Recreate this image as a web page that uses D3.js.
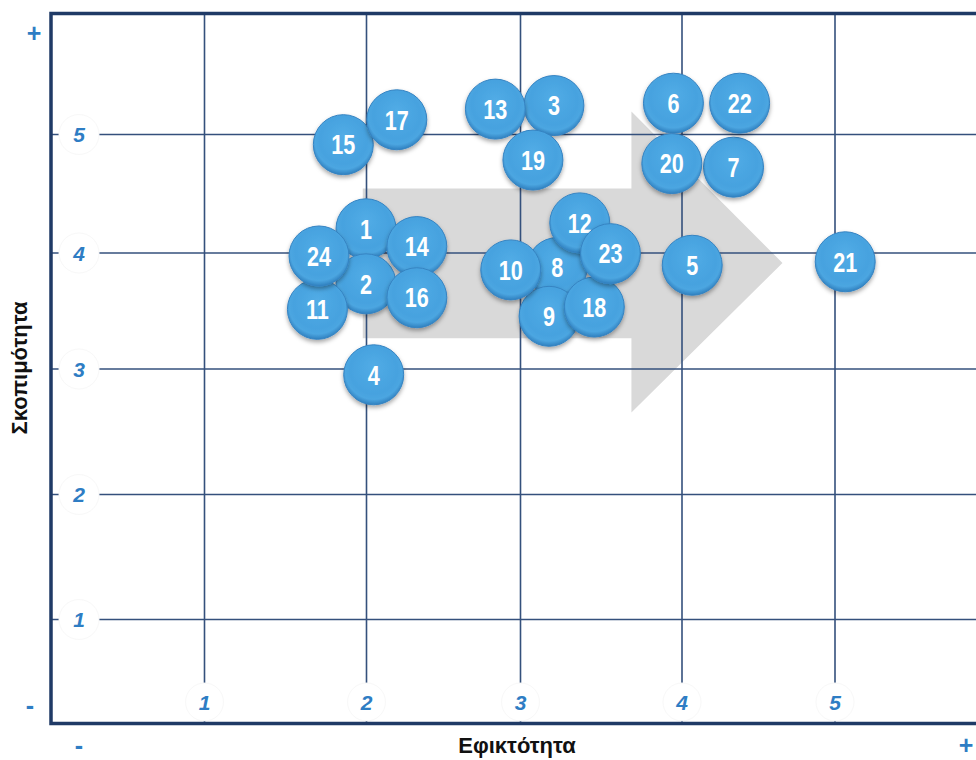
<!DOCTYPE html>
<html lang="el">
<head>
<meta charset="UTF-8">
<title>Εφικτότητα - Σκοπιμότητα</title>
<script src="https://d3js.org/d3.v7.min.js"></script>
<style>
    body{
        margin: 0;
        background: #ffffff;
        font-family: "Liberation Sans", Arial, sans-serif;
    }
    .tick-label{
        font-family: "Liberation Sans", Arial, sans-serif;
        font-weight: bold;
        font-style: italic;
        font-size: 21px;
        fill: #2e7dc4;
    }
    .sign{
        font-family: "Liberation Sans", Arial, sans-serif;
        font-weight: bold;
        font-size: 25px;
        fill: #2e7dc4;
    }
    .axis-title{
        font-family: "Liberation Sans", Arial, sans-serif;
        font-weight: bold;
        font-size: 22px;
        fill: #111;
    }
    .bubble-label{
        font-family: "Liberation Sans", Arial, sans-serif;
        font-weight: bold;
        font-size: 27px;
        fill: #ffffff;
    }
</style>
</head>
<body>
<div id="chart"></div>
<script>
    // items: id, feasibility (x), purposefulness (y)
    const ids = [1, 2, 3, 4, 5, 6, 7, 8, 9, 10, 11, 12, 13, 14, 15, 16, 17, 18, 19, 20, 21, 22, 23, 24];
    const xValues = [2.00, 2.00, 3.21, 2.05, 4.07, 3.95, 4.34, 3.23, 3.18, 2.94, 1.70, 3.37, 2.84, 2.33, 1.86, 2.33, 2.20, 3.46, 3.08, 3.94, 5.07, 4.38, 3.56, 1.71];
    const yValues = [4.20, 3.73, 5.24, 2.95, 3.89, 5.26, 4.72, 3.87, 3.45, 3.85, 3.51, 4.25, 5.21, 4.05, 4.91, 3.61, 5.12, 3.53, 4.78, 4.75, 3.92, 5.26, 3.99, 3.97];

    const xTicks = [1, 2, 3, 4, 5];
    const yTicks = [1, 2, 3, 4, 5];
    const xTitle = "Εφικτότητα";
    const yTitle = "Σκοπιμότητα";

    // background arrow outline (data units)
    const arrowX = [1.98, 3.69, 3.69, 4.66, 3.69, 3.69, 1.98];
    const arrowY = [4.54, 4.54, 5.19, 3.91, 2.65, 3.26, 3.26];

    const w = 976;
    const h = 760;
    const mLeft = 51, mTop = 13.5, mBottom = 723.5, mRight = 976;
    const r = 30;

    // the grid in the original is slightly uneven, so polylinear scales
    const x = d3.scaleLinear().domain(xTicks).range([204, 366, 520, 681.5, 834.5]);
    const y = d3.scaleLinear().domain(yTicks).range([619, 494, 368.5, 252.5, 134]);

    const svg = d3.select("#chart").append("svg")
        .attr("width", w)
        .attr("height", h);

    const defs = svg.append("defs");
    const grad = defs.append("radialGradient")
        .attr("id", "ball")
        .attr("cx", "50%").attr("cy", "45%").attr("r", "55%")
        .attr("fx", "50%").attr("fy", "35%");
    grad.append("stop").attr("offset", "0%").attr("stop-color", "#52ace6");
    grad.append("stop").attr("offset", "72%").attr("stop-color", "#46a2df");
    grad.append("stop").attr("offset", "86%").attr("stop-color", "#4ca6e1");
    grad.append("stop").attr("offset", "100%").attr("stop-color", "#2f80bf");

    const shadow = defs.append("filter")
        .attr("id", "shadow")
        .attr("x", "-30%").attr("y", "-30%").attr("width", "160%").attr("height", "160%");
    shadow.append("feDropShadow")
        .attr("dx", 0).attr("dy", 2.5)
        .attr("stdDeviation", 2)
        .attr("flood-color", "#000")
        .attr("flood-opacity", 0.35);

    // grey arrow
    const arrowPts = arrowX.map((d, i) => [x(d), y(arrowY[i])]);
    svg.append("path")
        .attr("d", d3.line()(arrowPts) + "Z")
        .attr("fill", "#d9d9d9");

    // grid lines via axes
    const gx = svg.append("g")
        .attr("transform", `translate(0,${mBottom})`)
        .call(d3.axisBottom(x).tickValues(xTicks).tickSize(-(mBottom - mTop)).tickFormat(""));
    const gy = svg.append("g")
        .attr("transform", `translate(${mLeft},0)`)
        .call(d3.axisLeft(y).tickValues(yTicks).tickSize(-(mRight - mLeft)).tickFormat(""));

    [gx, gy].forEach(g => {
        g.select(".domain").remove();
        g.selectAll(".tick line")
            .attr("stroke", "#34507c")
            .attr("stroke-width", 1.6);
    });

    // tick labels sitting in white discs
    gx.selectAll(".tick").append("circle")
        .attr("cx", 0).attr("cy", -21.5).attr("r", 19)
        .attr("fill", "#fff").attr("stroke", "#f8f8f8");
    gx.selectAll(".tick").append("text")
        .attr("class", "tick-label")
        .attr("x", 0).attr("y", -21.5)
        .attr("dy", "0.36em")
        .attr("text-anchor", "middle")
        .text(d => d);

    gy.selectAll(".tick").append("circle")
        .attr("cx", 28).attr("cy", 0).attr("r", 20)
        .attr("fill", "#fff").attr("stroke", "#f8f8f8");
    gy.selectAll(".tick").append("text")
        .attr("class", "tick-label")
        .attr("x", 28).attr("y", 0)
        .attr("dy", "0.36em")
        .attr("text-anchor", "middle")
        .text(d => d);

    // frame (left, top, bottom)
    svg.append("path")
        .attr("d", `M${mRight},${mTop}H${mLeft}V${mBottom}H${mRight}`)
        .attr("fill", "none")
        .attr("stroke", "#1f3a66")
        .attr("stroke-width", 3.5);

    // + / - signs
    const signs = [
        {t: "+", x: 34, y: 33},
        {t: "-", x: 30, y: 705},
        {t: "-", x: 79, y: 745},
        {t: "+", x: 966, y: 745}
    ];
    svg.selectAll(".sign")
        .data(signs)
        .enter()
        .append("text")
        .attr("class", "sign")
        .attr("x", d => d.x)
        .attr("y", d => d.y)
        .attr("dy", "0.36em")
        .attr("text-anchor", "middle")
        .text(d => d.t);

    // axis titles
    svg.append("text")
        .attr("class", "axis-title")
        .attr("x", 517).attr("y", 745)
        .attr("dy", "0.36em")
        .attr("text-anchor", "middle")
        .text(xTitle);
    svg.append("text")
        .attr("class", "axis-title")
        .attr("transform", "translate(19,368) rotate(-90)")
        .attr("dy", "0.36em")
        .attr("text-anchor", "middle")
        .text(yTitle);

    // bubbles
    const items = ids.map((id, i) => ({id: id, x: xValues[i], y: yValues[i]}));
    const b = svg.selectAll(".bubble")
        .data(items)
        .enter()
        .append("g")
        .attr("class", "bubble")
        .attr("transform", d => `translate(${x(d.x)},${y(d.y)})`);
    b.append("circle")
        .attr("r", r)
        .attr("fill", "url(#ball)")
        .attr("stroke", "#3583c2")
        .attr("stroke-width", 1)
        .attr("filter", "url(#shadow)");
    // narrow digits, like a condensed face
    b.append("text")
        .attr("class", "bubble-label")
        .attr("text-anchor", "middle")
        .attr("dy", "0.36em")
        .attr("transform", "scale(0.8,1)")
        .text(d => d.id);
</script>
</body>
</html>
